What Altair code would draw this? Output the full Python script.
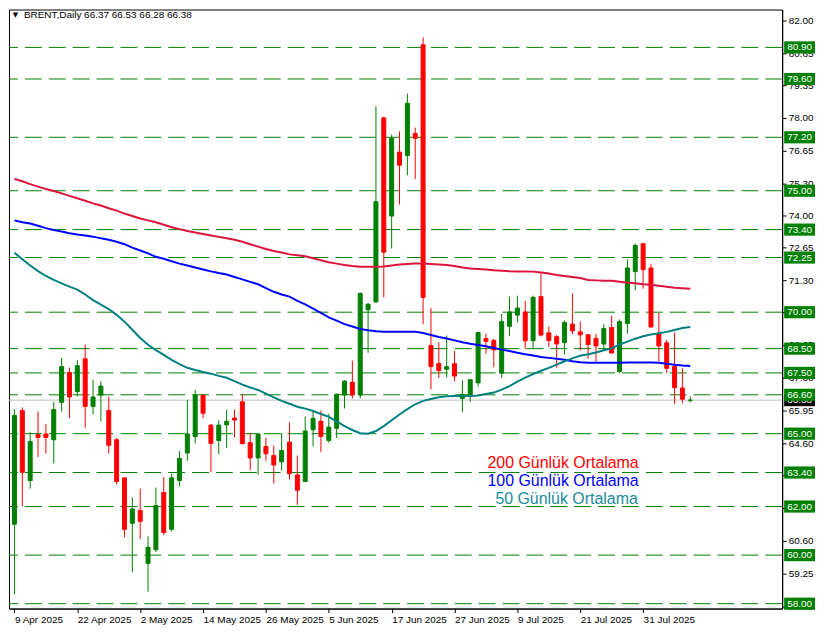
import altair as alt
import pandas as pd

# ---------------- data ----------------
opens = [61.27, 65.95, 63.07, 64.96, 64.99, 64.75, 66.29, 67.52, 66.73, 68.08,
         66.12, 66.58, 65.95, 64.75, 63.18, 61.31, 61.84, 59.66, 60.22, 62.58,
         61.06, 63.07, 64.20, 64.88, 66.58, 65.35, 64.72, 65.36, 65.64, 66.31,
         64.63, 64.00, 64.47, 64.10, 63.84, 64.65, 63.30, 63.03, 65.16, 65.51,
         64.72, 65.22, 66.59, 67.12, 66.59, 70.10, 70.42, 78.00, 73.96, 76.59,
         76.45, 77.36, 81.01, 68.63, 67.89, 67.65, 67.88, 66.45, 66.55, 67.09,
         68.92, 68.84, 67.49, 69.42, 69.88, 70.01, 68.83, 70.64, 69.15, 68.99,
         68.75, 69.51, 69.19, 69.07, 68.92, 68.69, 69.37, 67.56, 69.53, 71.67,
         72.82, 71.82, 69.12, 68.74, 67.76, 66.88, 66.37]
highs = [66.00, 66.08, 65.06, 65.91, 65.39, 66.31, 68.12, 67.72, 68.03, 68.67,
         67.22, 67.16, 66.51, 64.83, 63.18, 62.38, 62.74, 60.77, 62.78, 63.21,
         63.34, 64.28, 66.39, 66.80, 66.62, 65.40, 65.55, 65.99, 65.99, 66.62,
         65.02, 65.03, 64.83, 64.51, 65.03, 65.47, 64.10, 65.71, 65.95, 65.95,
         65.82, 66.66, 67.20, 68.00, 70.82, 70.37, 78.48, 78.05, 77.31, 77.44,
         79.00, 77.60, 81.32, 70.17, 68.76, 69.04, 68.40, 67.20, 67.22, 69.20,
         69.12, 68.90, 69.93, 70.64, 70.68, 70.46, 70.68, 71.60, 69.41, 69.06,
         69.66, 70.77, 69.61, 69.10, 69.10, 69.50, 69.85, 69.70, 72.18, 72.82,
         72.85, 71.98, 69.97, 68.86, 69.16, 67.69, 66.53]
lows = [58.40, 62.00, 62.74, 64.04, 64.18, 63.77, 65.91, 65.64, 66.53, 65.24,
        65.79, 65.51, 64.18, 62.91, 60.73, 59.30, 60.66, 58.49, 60.13, 60.82,
        60.97, 62.83, 63.88, 64.60, 65.64, 63.41, 64.16, 64.40, 64.84, 64.55,
        63.51, 63.31, 63.88, 62.95, 63.47, 63.11, 62.07, 63.00, 64.48, 64.24,
        64.63, 64.82, 66.04, 66.45, 66.45, 68.33, 70.40, 70.61, 72.62, 74.43,
        75.63, 75.48, 69.50, 66.82, 67.29, 67.32, 67.16, 65.88, 66.31, 66.93,
        68.29, 67.73, 67.29, 69.02, 69.58, 68.48, 68.53, 69.00, 68.57, 67.71,
        68.27, 69.10, 68.43, 68.09, 67.96, 68.45, 68.28, 67.49, 69.12, 70.90,
        70.97, 69.37, 67.96, 67.49, 66.22, 66.26, 66.28]
closes = [65.75, 63.41, 64.68, 64.84, 64.84, 65.99, 67.76, 66.51, 67.80, 66.12,
          66.51, 66.96, 64.52, 63.03, 61.06, 61.90, 61.39, 60.32, 62.04, 60.93,
          63.18, 63.98, 64.99, 66.58, 65.84, 64.60, 65.35, 65.51, 65.56, 64.59,
          64.00, 64.99, 64.17, 63.71, 64.31, 63.35, 62.67, 65.11, 65.63, 64.88,
          65.27, 66.62, 67.16, 66.59, 70.77, 70.33, 74.55, 72.47, 77.16, 76.05,
          78.60, 77.16, 70.61, 67.76, 67.60, 67.76, 67.37, 66.62, 67.22, 69.16,
          68.80, 68.45, 69.61, 70.01, 70.17, 68.82, 70.61, 69.06, 68.83, 68.69,
          69.58, 69.23, 69.07, 68.67, 68.61, 69.33, 68.32, 69.61, 71.82, 72.75,
          71.75, 69.39, 68.61, 67.69, 66.89, 66.42, 66.38]
ma200 = [75.48, 75.39, 75.27, 75.17, 75.07, 74.99, 74.89, 74.79, 74.69, 74.59,
         74.48, 74.39, 74.28, 74.18, 74.06, 73.96, 73.86, 73.78, 73.70, 73.60,
         73.50, 73.42, 73.34, 73.28, 73.22, 73.16, 73.10, 73.04, 72.98, 72.90,
         72.80, 72.70, 72.60, 72.52, 72.46, 72.38, 72.34, 72.30, 72.22, 72.14,
         72.06, 72.00, 71.94, 71.90, 71.87, 71.87, 71.87, 71.88, 71.92, 71.96,
         71.98, 72.00, 72.00, 71.98, 71.96, 71.94, 71.90, 71.84, 71.80, 71.78,
         71.76, 71.73, 71.71, 71.69, 71.68, 71.68, 71.67, 71.63, 71.59, 71.53,
         71.49, 71.45, 71.41, 71.33, 71.31, 71.29, 71.29, 71.25, 71.21, 71.19,
         71.15, 71.13, 71.09, 71.05, 71.01, 70.99, 70.97]
ma100 = [73.78, 73.70, 73.65, 73.56, 73.46, 73.38, 73.32, 73.25, 73.20, 73.16,
         73.11, 73.04, 72.98, 72.90, 72.80, 72.66, 72.54, 72.42, 72.28, 72.20,
         72.10, 72.00, 71.92, 71.84, 71.76, 71.68, 71.61, 71.55, 71.45, 71.35,
         71.25, 71.15, 70.99, 70.84, 70.73, 70.64, 70.47, 70.32, 70.15, 69.97,
         69.79, 69.65, 69.51, 69.41, 69.31, 69.26, 69.22, 69.20, 69.20, 69.20,
         69.20, 69.20, 69.14, 69.06, 68.98, 68.92, 68.84, 68.76, 68.70, 68.65,
         68.60, 68.53, 68.46, 68.40, 68.33, 68.27, 68.22, 68.16, 68.12, 68.08,
         68.04, 67.98, 67.94, 67.92, 67.92, 67.92, 67.92, 67.92, 67.93, 67.93,
         67.93, 67.93, 67.92, 67.88, 67.84, 67.81, 67.79]
ma50 = [72.45, 72.18, 71.92, 71.69, 71.49, 71.33, 71.19, 71.05, 70.93, 70.73,
        70.50, 70.31, 70.13, 69.89, 69.61, 69.28, 68.94, 68.66, 68.44, 68.24,
        68.04, 67.86, 67.71, 67.62, 67.54, 67.47, 67.38, 67.30, 67.16, 67.02,
        66.90, 66.80, 66.65, 66.49, 66.35, 66.23, 66.11, 66.03, 65.93, 65.81,
        65.69, 65.51, 65.31, 65.15, 65.02, 65.00, 65.11, 65.31, 65.55, 65.79,
        66.01, 66.21, 66.35, 66.43, 66.50, 66.54, 66.55, 66.55, 66.55, 66.57,
        66.63, 66.69, 66.81, 66.96, 67.14, 67.31, 67.45, 67.59, 67.71, 67.84,
        67.98, 68.10, 68.21, 68.27, 68.34, 68.43, 68.51, 68.67, 68.79, 68.91,
        69.01, 69.08, 69.13, 69.19, 69.27, 69.35, 69.39]

level_values = [80.90, 79.60, 77.20, 75.00, 73.40, 72.25, 70.00, 68.50, 67.50,
                66.60, 65.00, 63.40, 62.00, 60.00, 58.00]
price_ticks = [82.00, 80.65, 79.35, 78.00, 76.65, 75.30, 74.00, 72.65, 71.30, 70.00,
               68.65, 67.30, 65.95, 64.60, 63.30, 61.95, 60.60, 59.25, 57.90]
date_ticks = [0, 8, 16, 24, 32, 40, 48, 56, 64, 72, 80]
date_labels = ["9 Apr 2025", "22 Apr 2025", "2 May 2025", "14 May 2025", "26 May 2025",
               "5 Jun 2025", "17 Jun 2025", "27 Jun 2025", "9 Jul 2025", "21 Jul 2025",
               "31 Jul 2025"]
last_price = [66.38]
title_ohlc = [66.37, 66.53, 66.28, 66.38]
legend_labels = ["200 Günlük Ortalama", "100 Günlük Ortalama", "50 Günlük Ortalama"]

# ---------------- styling ----------------
W, H = 777, 602
FONT = "Liberation Sans"
UP, DOWN, LEVEL = "#008000", "#ff0000", "#008000"

n = len(opens)
df = pd.DataFrame({"i": list(range(n)), "open": opens, "high": highs, "low": lows,
                   "close": closes, "ma200": ma200, "ma100": ma100, "ma50": ma50})
lv = pd.DataFrame({"level": level_values})
bid = pd.DataFrame({"level": last_price})

xscale = alt.Scale(domain=[-0.0625, 97.0625], nice=False, zero=False)
yscale = alt.Scale(domain=[57.80, 82.46], nice=False, zero=False)

label_expr = "''"
for t, lab in reversed(list(zip(date_ticks, date_labels))):
    label_expr = f"datum.value == {t} ? '{lab}' : ({label_expr})"

xaxis = alt.Axis(values=date_ticks, labelExpr=label_expr, title=None, grid=False,
                 orient="bottom", labelAlign="left", labelFlush=False, labelBound=False,
                 labelOverlap=False, labelFont=FONT, labelFontSize=10, labelColor="black",
                 labelPadding=2, tickSize=4, tickColor="black", domainColor="black")
yaxis = alt.Axis(values=price_ticks, format=".2f", title=None, grid=False, orient="right",
                 labelFont=FONT, labelFontSize=10, labelColor="black", labelPadding=2,
                 tickSize=4, tickColor="black", domainColor="black", labelOverlap=False,
                 labelFlush=False, labelBound=False)


def X(field):
    return alt.X(f"{field}:Q", scale=xscale, axis=xaxis)


def Y(field):
    return alt.Y(f"{field}:Q", scale=yscale, axis=yaxis)


cond = alt.condition("datum.close >= datum.open", alt.value(UP), alt.value(DOWN))

levels = alt.Chart(lv).mark_rule(color=LEVEL, strokeDash=[17, 7], strokeWidth=1).encode(
    y=Y("level"))
bid_line = alt.Chart(bid).mark_rule(color="#c0c0c0", strokeWidth=1).encode(y=Y("level"))

wicks = alt.Chart(df).mark_rule(strokeWidth=1, clip=True).encode(
    x=X("i"), y=Y("low"), y2="high", color=cond)
bodies = alt.Chart(df).mark_bar(size=4, strokeWidth=1, clip=True).encode(
    x=X("i"), y=Y("open"), y2="close", color=cond, stroke=cond)

ma_layers = []
for field, col in [("ma200", "#dc143c"), ("ma100", "#0000ff"), ("ma50", "#008080")]:
    ma_layers.append(alt.Chart(df).mark_line(color=col, strokeWidth=2, clip=True).encode(
        x=X("i"), y=Y(field)))

# right side price boxes
bid_box = alt.Chart(bid).transform_calculate(
    lo="datum.level - 0.25", hi="datum.level + 0.25").mark_rect(color="black").encode(
    x=alt.value(W + 2), x2=alt.value(W + 33), y=Y("lo"), y2="hi")
bid_txt = alt.Chart(bid).mark_text(color="white", font=FONT, fontSize=10, align="center",
                                   baseline="middle").encode(
    x=alt.value(W + 17.5), y=Y("level"), text=alt.Text("level:Q", format=".2f"))
boxes = alt.Chart(lv).transform_calculate(
    lo="datum.level - 0.25", hi="datum.level + 0.25").mark_rect(color=LEVEL).encode(
    x=alt.value(W + 2), x2=alt.value(W + 33), y=Y("lo"), y2="hi")
box_txt = alt.Chart(lv).mark_text(color="white", font=FONT, fontSize=10, align="center",
                                  baseline="middle").encode(
    x=alt.value(W + 17.5), y=Y("level"), text=alt.Text("level:Q", format=".2f"))

# legend-like annotations
ann = pd.DataFrame({"label": legend_labels, "c": ["#ff0000", "#0000ff", "#1a8c9c"],
                    "i": [60.2, 60.2, 61.2], "p": [63.78, 63.06, 62.30]})
ann_txt = alt.Chart(ann).mark_text(font=FONT, fontSize=16, align="left",
                                   baseline="middle").encode(
    x=X("i"), y=Y("p"), text="label:N", color=alt.Color("c:N", scale=None))

# header
title_str = "BRENT,Daily  " + " ".join(f"{v:.2f}" for v in title_ohlc)
head = pd.DataFrame({"t": [title_str], "tri": ["\u25bc"]})
head_txt = alt.Chart(head).mark_text(font=FONT, fontSize=10, align="left",
                                     baseline="middle", color="black").encode(
    x=alt.value(15), y=alt.value(6), text="t:N")
head_tri = alt.Chart(head).mark_text(font="DejaVu Sans", fontSize=7, align="center",
                                     baseline="middle", color="black").encode(
    x=alt.value(6.5), y=alt.value(6), text="tri:N")

chart = alt.layer(
    levels, bid_line, wicks, bodies, *ma_layers, ann_txt,
    bid_box, bid_txt, boxes, box_txt, head_tri, head_txt
).properties(
    width=W, height=H,
    padding={"left": 0, "top": 0, "right": 2, "bottom": 0},
    background="white",
).configure_view(stroke="black", strokeWidth=1)

chart.save("out.html", embed_options={"renderer": "svg", "actions": False})
